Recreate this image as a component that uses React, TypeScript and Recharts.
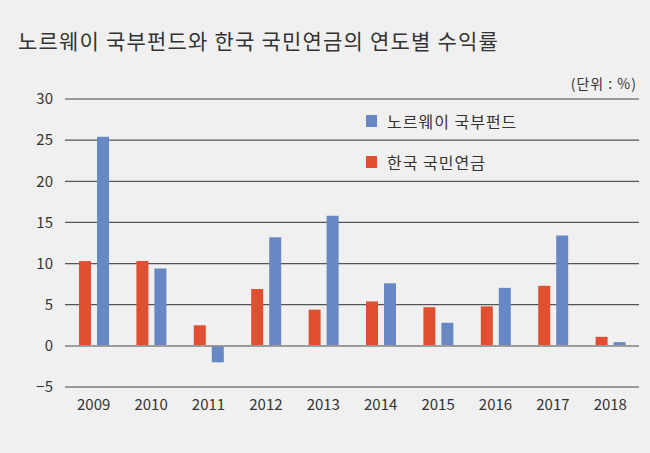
import { Bar, BarChart, CartesianGrid, Legend, ReferenceLine, XAxis, YAxis } from "recharts"

const years = ["2009", "2010", "2011", "2012", "2013", "2014", "2015", "2016", "2017", "2018"]
const koreaPension = [10.3, 10.3, 2.5, 6.9, 4.4, 5.4, 4.7, 4.8, 7.3, 1.1]
const norwayFund = [25.4, 9.4, -2.0, 13.2, 15.8, 7.6, 2.8, 7.05, 13.4, 0.45]
const yTicks = [-5, 0, 5, 10, 15, 20, 25, 30]

const RED = "#e04f2f"
const BLUE = "#6788c4"
const FONT = "'Noto Sans CJK KR', 'Noto Sans', sans-serif"

const data = years.map((year, i) => ({
  year,
  korea: koreaPension[i],
  norway: norwayFund[i],
}))

const legendItems = [
  { name: "노르웨이 국부펀드", color: BLUE },
  { name: "한국 국민연금", color: RED },
]

function LegendBox() {
  return (
    <div style={{ fontFamily: FONT }}>
      {legendItems.map((item) => (
        <div
          key={item.name}
          style={{ display: "flex", alignItems: "center", height: 41, fontSize: 16, color: "#333", letterSpacing: 1 }}
        >
          <span style={{ width: 11, height: 12, background: item.color, marginRight: 10 }} />
          <span>{item.name}</span>
        </div>
      ))}
    </div>
  )
}

export default function App() {
  return (
    <div
      style={{
        position: "absolute",
        left: 0,
        top: 0,
        width: 650,
        height: 453,
        background: "#f0f0f0",
        fontFamily: FONT,
      }}
    >
      <div style={{ position: "absolute", left: 18, top: 25, fontSize: 21, color: "#333", letterSpacing: 1.2 }}>
        노르웨이 국부펀드와 한국 국민연금의 연도별 수익률
      </div>
      <div style={{ position: "absolute", right: 13, top: 73, fontSize: 14, color: "#333", letterSpacing: 1 }}>
        (단위 : %)
      </div>
      <BarChart
        width={650}
        height={453}
        data={data}
        margin={{ top: 99, right: 11, left: 0, bottom: 36 }}
        barSize={12}
        barGap={6}
      >
        <CartesianGrid vertical={false} stroke="#555" strokeWidth={1.2} />
        <ReferenceLine y={0} stroke="#999" strokeWidth={1.5} />
        <ReferenceLine y={-5} stroke="#999" strokeWidth={1.5} />
        <ReferenceLine y={30} stroke="#999" strokeWidth={1.5} />
        <XAxis
          dataKey="year"
          axisLine={false}
          tickLine={false}
          height={30}
          tick={{ fill: "#333", fontSize: 15, fontFamily: FONT }}
          tickMargin={6}
        />
        <YAxis
          domain={[-5, 30]}
          ticks={yTicks}
          width={65}
          axisLine={false}
          tickLine={false}
          interval={0}
          tick={{ fill: "#333", fontSize: 15, fontFamily: FONT }}
          tickMargin={6}
          tickFormatter={(v: number) => (v < 0 ? `−${Math.abs(v)}` : `${v}`)}
        />
        <Legend
          layout="horizontal"
          verticalAlign="middle"
          align="center"
          wrapperStyle={{ left: 366, top: 100, width: 200 }}
          content={() => <LegendBox />}
        />
        <Bar dataKey="korea" name="한국 국민연금" fill={RED} isAnimationActive={false} />
        <Bar dataKey="norway" name="노르웨이 국부펀드" fill={BLUE} isAnimationActive={false} />
      </BarChart>
    </div>
  )
}
